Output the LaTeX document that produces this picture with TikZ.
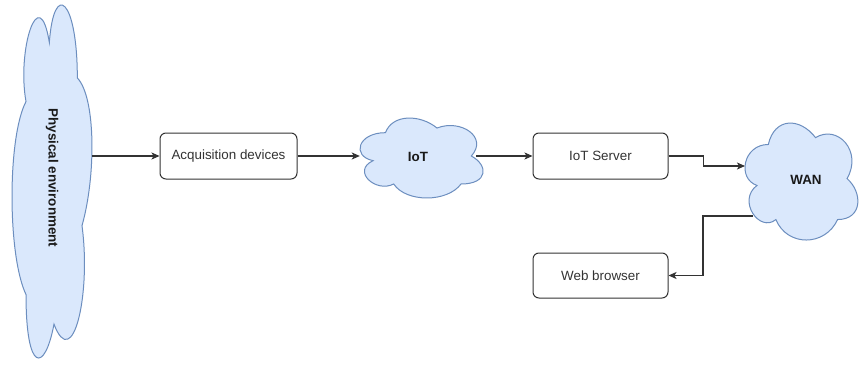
\documentclass[tikz,border=0pt]{standalone}
\usepackage{fontspec}
\setmainfont{Liberation Sans}
\usetikzlibrary{arrows.meta}
\definecolor{cloudfill}{HTML}{DAE8FC}
\definecolor{cloudline}{HTML}{6C8EBF}
\definecolor{ink}{HTML}{333333}
% cloud outline in a unit frame centred on the origin; #1 = placement
\newcommand\cloudoutline[1]{%
  \begin{scope}[#1]
    \filldraw[cloudshape]
      (-0.25,-0.25) .. controls (-0.45,-0.25) and (-0.5,0) .. (-0.34,0.05)
      .. controls (-0.5,0.16) and (-0.32,0.4) .. (-0.19,0.3)
      .. controls (-0.1,0.5) and (0.2,0.5) .. (0.3,0.3)
      .. controls (0.5,0.3) and (0.5,0.1) .. (0.375,0)
      .. controls (0.5,-0.2) and (0.3,-0.4) .. (0.125,-0.3)
      .. controls (0,-0.45) and (-0.2,-0.45) .. (-0.25,-0.25) -- cycle;
  \end{scope}}
\begin{document}
\begin{tikzpicture}[x=1pt,y=-1pt,
  box/.style={draw=ink, line width=1pt, rounded corners=6pt, fill=white,
    font=\fontsize{13.4}{16}\selectfont, text=ink, inner sep=0pt},
  cloudlabel/.style={font=\fontsize{13.4}{16}\selectfont\bfseries, text=black!90, inner sep=0pt},
  cloudshape/.style={fill=cloudfill, draw=cloudline, line width=1pt},
  arr/.style={draw=ink, line width=1.2pt, -{Stealth[length=8pt,width=7pt,inset=2pt]}}
]
\useasboundingbox (0,0) rectangle (859,364);
\fill[white] (0,0) rectangle (859,364);

% clouds
\cloudoutline{shift={(54,176.4)},rotate=-90,xscale=394,yscale=93.3}
\cloudoutline{shift={(419.8,156)},xscale=137.4,yscale=93.3}
\cloudoutline{shift={(799.8,178.6)},xscale=126,yscale=136.5}

% labels and boxes
\node[cloudlabel, rotate=-90, minimum width=353pt, minimum height=80pt] (phys) at (52,178) {Physical environment};
\node[box, minimum width=137pt, minimum height=46pt] (acq) at (228.5,156) {Acquisition devices};
\node[cloudlabel, minimum width=116pt, minimum height=80pt] (iot) at (418,157) {IoT};
\node[box, minimum width=135pt, minimum height=46pt] (srv) at (600.5,156) {IoT Server};
\node[cloudlabel] (wan) at (806,180) {WAN};
\node[box, minimum width=135pt, minimum height=45pt] (web) at (600.5,275.5) {Web browser};

\coordinate (wanin) at (745,166);
\coordinate (wanout) at (753,216);

% connectors
\draw[arr] (phys.north |- acq.west) -- (acq.west);
\draw[arr] (acq.east) -- (acq.east -| iot.west);
\draw[arr] (iot.east |- srv.west) -- (srv.west);
\draw[arr] (srv.east) -- ++(35,0) |- (wanin);
\draw[arr] (wanout) -- ++(-50,0) |- (web.east);
\end{tikzpicture}
\end{document}
